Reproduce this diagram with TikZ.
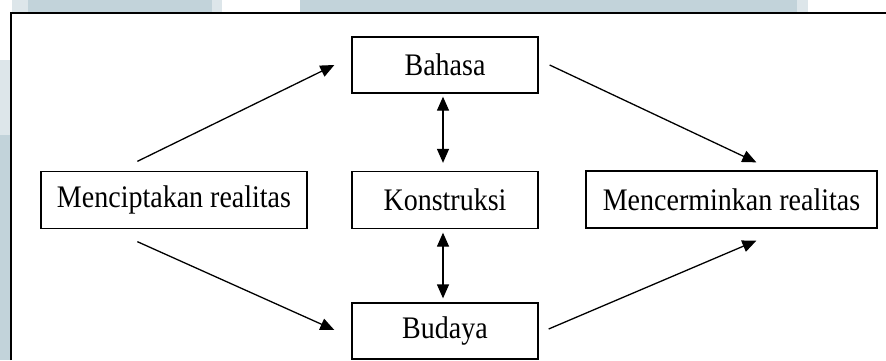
\documentclass[tikz,border=0pt]{standalone}
\usepackage{fontspec}
\setmainfont{Liberation Serif}
\usetikzlibrary{arrows.meta,calc}
\definecolor{wm}{HTML}{C2D3DA}
\definecolor{wmlight}{HTML}{DDE6EA}
\tikzset{
  box/.style={draw=black, line width=1.3pt, fill=white, inner sep=0pt, minimum height=56pt,
    font=\fontsize{28}{32}\selectfont},
  conn/.style={line width=1.3pt, -{Triangle[length=14pt,width=12pt]}},
  biconn/.style={line width=1.3pt, {Triangle[length=14pt,width=12pt]}-{Triangle[length=14pt,width=12pt]}},
}
\newcommand{\tall}[1]{\scalebox{1}[1.12]{#1}}
\begin{document}
\begin{tikzpicture}[x=1pt,y=-1pt]
\useasboundingbox (0,0) rectangle (886,360);
% watermark background pieces
\fill[wmlight] (12,0) rectangle (28,12);
\fill[wm] (28,0) rectangle (212,12);
\fill[wmlight] (212,0) rectangle (222,12);
\fill[wm] (300,0) rectangle (797,12);
\fill[wmlight] (797,0) rectangle (808,12);
\fill[wmlight] (0,60) rectangle (10,135);
\fill[wm] (0,135) rectangle (10,360);
% frame
\draw[line width=2pt] (11,360) -- (11,12.5) -- (886,12.5);
% boxes
\node[box, minimum width=186pt] (bahasa) at (445,65) {\tall{Bahasa}};
\node[box, minimum width=266pt, minimum height=57pt] (menc) at (174,200) {\tall{Menciptakan realitas}};
\node[box, minimum width=186pt, minimum height=57pt] (kons) at (445,200) {\tall{Konstruksi}};
\node[box, minimum width=291pt, minimum height=57pt] (mcer) at (731.5,199.5) {\tall{Mencerminkan realitas}};
\node[box, minimum width=186pt] (budaya) at (445,331) {\tall{Budaya}};
% connectors
\draw[conn] ($(menc.north west)+(97,-9.5)$) -- ($(bahasa.west)+(-17,0)$);
\draw[conn] ($(bahasa.east)+(11,0)$) -- ($(mcer.north west)+(171,-8)$);
\draw[conn] ($(menc.south west)+(97,12.5)$) -- ($(budaya.west)+(-17,-1)$);
\draw[conn] ($(budaya.east)+(10,-2)$) -- ($(mcer.south west)+(171,12)$);
\draw[biconn, shorten <=3pt, shorten >=8pt] ($(bahasa.south)+(-2,0)$) -- ($(kons.north)+(-2,0)$);
\draw[biconn, shorten <=3.5pt, shorten >=4pt] ($(kons.south)+(-2,0)$) -- ($(budaya.north)+(-2,0)$);
\end{tikzpicture}
\end{document}
